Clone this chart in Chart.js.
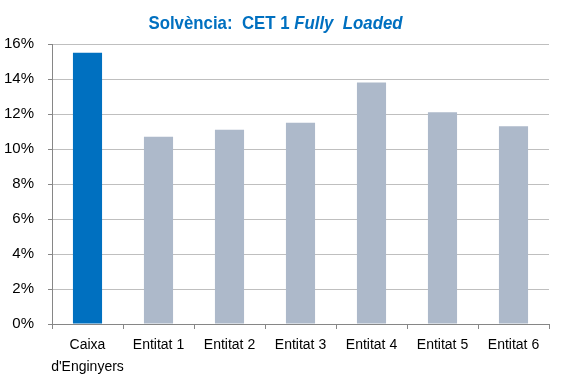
<!DOCTYPE html>
<html>
<head>
<meta charset="utf-8">
<script src="https://cdn.jsdelivr.net/npm/chart.js@4/dist/chart.umd.min.js"></script>
<style>
html,body{margin:0;padding:0;background:#fff;}
#wrap{position:relative;width:571px;height:376px;}
</style>
</head>
<body>
<div id="wrap"><canvas id="c" width="571" height="376"></canvas></div>
<script>
const titlePlain = "Solvència:  CET 1 ";
const titleItalic = "Fully  Loaded";
const categories = [["Caixa", "d'Enginyers"], "Entitat 1", "Entitat 2", "Entitat 3", "Entitat 4", "Entitat 5", "Entitat 6"];
const values = [15.5, 10.7, 11.1, 11.5, 13.8, 12.1, 11.3];
const barColors = ["#0070C0", "#ADB9CA", "#ADB9CA", "#ADB9CA", "#ADB9CA", "#ADB9CA", "#ADB9CA"];
const yTicks = [0, 2, 4, 6, 8, 10, 12, 14, 16];

const titlePlugin = {
  id: 'mixedTitle',
  afterDraw(chart) {
    const ctx = chart.ctx;
    ctx.save();
    ctx.fillStyle = '#0070C0';
    ctx.textBaseline = 'alphabetic';
    const f1 = 'bold 19px "Liberation Sans", Arial, sans-serif';
    const f2 = 'italic bold 19px "Liberation Sans", Arial, sans-serif';
    const sx = 0.885;
    ctx.font = f1; const w1 = ctx.measureText(titlePlain).width;
    ctx.font = f2; const w2 = ctx.measureText(titleItalic).width;
    const cx = 275.5;
    const y = 29;
    ctx.translate(cx, y);
    ctx.scale(sx, 1);
    let x = -(w1 + w2) / 2;
    ctx.font = f1; ctx.fillText(titlePlain, x, 0);
    ctx.font = f2; ctx.fillText(titleItalic, x + w1, 0);
    ctx.restore();
  }
};

new Chart(document.getElementById('c'), {
  type: 'bar',
  data: {
    labels: categories,
    datasets: [{
      data: values,
      backgroundColor: barColors,
      borderWidth: 0,
      categoryPercentage: 1.0,
      barPercentage: 0.41
    }]
  },
  options: {
    responsive: false,
    animation: false,
    layout: { padding: { top: 44, right: 22, left: 0, bottom: 0 } },
    plugins: { legend: { display: false }, title: { display: false }, tooltip: { enabled: false } },
    scales: {
      x: {
        offset: true,
        grid: { display: true, drawOnChartArea: false, drawTicks: true, tickLength: 5, color: '#868686', offset: true },
        border: { color: '#868686', width: 1 },
        ticks: {
          color: '#000', padding: 5, maxRotation: 0, autoSkip: false,
          font: { family: '"Liberation Sans", Arial, sans-serif', size: 14, lineHeight: 1.57 }
        },
        afterFit(s) { s.height = 52; }
      },
      y: {
        min: 0, max: 16,
        afterBuildTicks(s) { s.ticks = yTicks.map(v => ({ value: v })); },
        grid: { color: '#BFBFBF', tickColor: '#868686', tickLength: 4, drawTicks: true },
        border: { color: '#868686', width: 1 },
        ticks: {
          color: '#000', padding: 14,
          font: { family: '"Liberation Sans", Arial, sans-serif', size: 15 },
          callback: v => v + '%'
        },
        afterFit(s) { s.width = 52; }
      }
    }
  },
  plugins: [titlePlugin]
});
</script>
</body>
</html>
